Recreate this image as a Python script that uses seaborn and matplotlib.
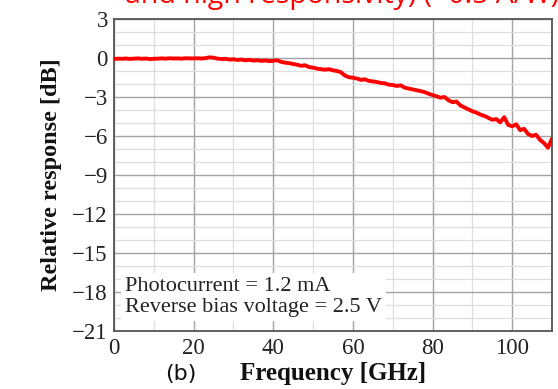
import numpy as np
import pandas as pd
import matplotlib
matplotlib.use("Agg")
import matplotlib.pyplot as plt
from matplotlib.ticker import MultipleLocator, FixedLocator
import seaborn as sns

# frequency response, 1 GHz steps
freq_ghz = list(range(0, 111))
response_db = [
    -0.08, -0.05, -0.06, -0.04, -0.07, -0.05, -0.03, -0.06, -0.04, -0.08,
    -0.06, -0.05, -0.03, -0.05, -0.02, -0.04, -0.03, -0.05, -0.02, -0.03,
    -0.03, -0.02, -0.04, -0.01, 0.05, 0.02, -0.05, -0.08, -0.06, -0.12,
    -0.10, -0.15, -0.12, -0.18, -0.14, -0.20, -0.17, -0.22, -0.19, -0.24,
    -0.21, -0.18, -0.30, -0.36, -0.40, -0.46, -0.52, -0.60, -0.56, -0.70,
    -0.74, -0.82, -0.86, -0.90, -0.86, -0.95, -1.00, -1.10, -1.35, -1.48,
    -1.52, -1.58, -1.68, -1.64, -1.76, -1.80, -1.85, -1.92, -1.95, -2.05,
    -2.08, -2.15, -2.10, -2.28, -2.35, -2.42, -2.48, -2.55, -2.62, -2.75,
    -2.85, -2.95, -3.05, -3.00, -3.25, -3.40, -3.35, -3.65, -3.80, -3.95,
    -4.10, -4.20, -4.35, -4.45, -4.60, -4.75, -4.70, -4.95, -4.55, -5.15,
    -5.25, -5.10, -5.55, -5.45, -5.85, -6.00, -5.90, -6.30, -6.55, -6.90,
    -6.20,
]
x_ticks = [0, 20, 40, 60, 80, 100]
y_ticks = [3, 0, -3, -6, -9, -12, -15, -18, -21]
notes = ["Photocurrent = 1.2 mA", "Reverse bias voltage = 2.5 V"]

sns.set_theme(style="white")
plt.rcParams["font.family"] = ["Liberation Serif", "DejaVu Serif"]

df = pd.DataFrame({"freq": freq_ghz, "resp": response_db})

fig = plt.figure(figsize=(5.58, 3.89), dpi=100)
ax = fig.add_axes([114 / 558, 1 - 331 / 389, 438 / 558, 312 / 389])

sns.lineplot(data=df, x="freq", y="resp", color="#ff0000", linewidth=2.8, ax=ax, zorder=4)

ax.set_xlim(0, 110)
ax.set_ylim(-21, 3)
ax.xaxis.set_major_locator(FixedLocator(x_ticks))
ax.xaxis.set_minor_locator(MultipleLocator(10))
ax.yaxis.set_major_locator(FixedLocator(y_ticks))
ax.yaxis.set_minor_locator(MultipleLocator(1))
ax.set_yticklabels([str(v).replace("-", "\u2212") for v in y_ticks])
ax.set_xticklabels([str(v) for v in x_ticks])

# 20 GHz / 3 dB gridlines darker, 10 GHz / 1 dB ones light
ax.set_axisbelow(True)
ax.grid(which="minor", color="#dedede", linewidth=0.9)
ax.grid(which="major", color="#a3a3a3", linewidth=1.0)
ax.tick_params(which="both", length=0, labelsize=16.5, colors="#222222")
ax.tick_params(axis="x", pad=5)
ax.tick_params(axis="y", pad=4.5)
for s in ax.spines.values():
    s.set_color("#555555")
    s.set_linewidth(1.3)

ax.set_xlabel("Frequency [GHz]", fontsize=18, fontweight="bold", color="#111111")
ax.xaxis.set_label_coords(0.5, -(380 - 331) / 312)
ax.xaxis.label.set_verticalalignment("baseline")
ax.set_ylabel("Relative response [dB]", fontsize=17.5, fontweight="bold", color="#111111")
ax.yaxis.set_label_coords(-0.118, 0.5)

ax.text(2.8, -19.54, "\n".join(notes), fontsize=16, color="#222222",
        ha="left", va="baseline", linespacing=1.13, zorder=3,
        bbox=dict(facecolor="white", edgecolor="none", pad=3))

fig.text(165 / 558, 1 - 380 / 389, "(b)", fontsize=16, family="DejaVu Sans",
         color="#111111", va="baseline")
fig.text(125 / 558, 1 - 3 / 389, "and high responsivity) (~0.5 A/W)", fontsize=20.5,
         family="Open Sans", color="#ff0000", va="baseline")

fig.savefig("out.png", dpi=100)
